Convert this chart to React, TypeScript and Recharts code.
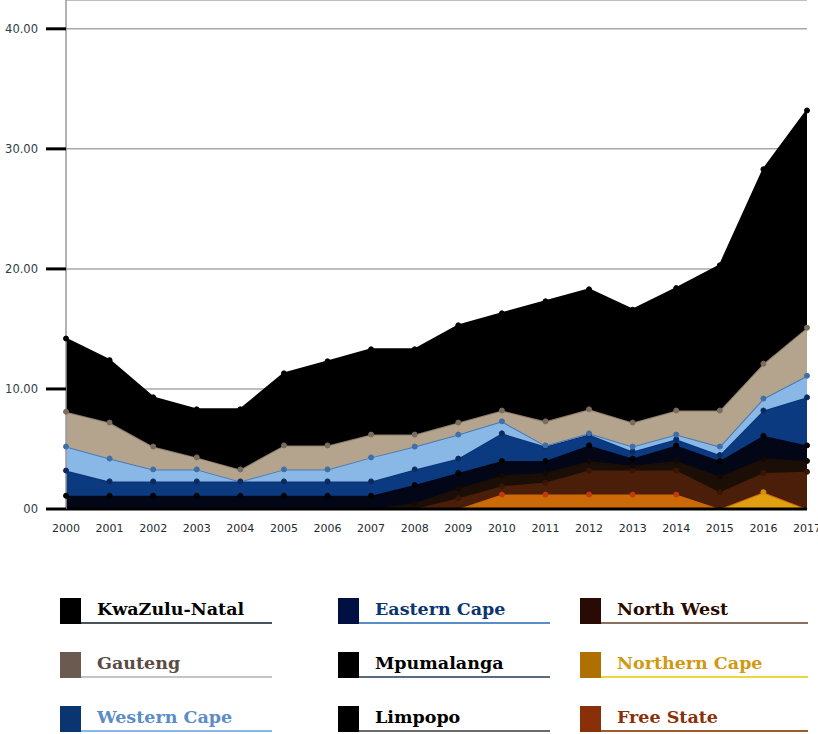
import { Area, AreaChart, CartesianGrid, XAxis, YAxis } from "recharts";

const years = [
  "2000", "2001", "2002", "2003", "2004", "2005", "2006", "2007", "2008",
  "2009", "2010", "2011", "2012", "2013", "2014", "2015", "2016", "2017",
];

// values per province, bottom of the stack first
const northernCape = [0, 0, 0, 0, 0, 0, 0, 0, 0, 0, 0, 0, 0, 0, 0, 0, 1.4, 0];
const freeState = [0, 0, 0, 0, 0, 0, 0, 0, 0, 0, 1.2, 1.2, 1.2, 1.2, 1.2, 0, 0, 0];
const northWest = [0, 0, 0, 0, 0, 0, 0, 0, 0, 0.9, 0.7, 1.0, 2.0, 2.0, 2.0, 1.4, 1.6, 3.1];
const limpopo = [0, 0, 0, 0, 0, 0, 0, 0, 0.5, 0.8, 0.9, 0.8, 0.8, 0.4, 0.8, 1.3, 1.2, 0.9];
const mpumalanga = [1.1, 1.1, 1.1, 1.1, 1.1, 1.1, 1.1, 1.1, 1.5, 1.3, 1.2, 1.0, 1.3, 0.6, 1.3, 1.3, 1.9, 1.3];
const easternCape = [2.1, 1.2, 1.2, 1.2, 1.2, 1.2, 1.2, 1.2, 1.3, 1.2, 2.3, 1.2, 0.9, 0.6, 0.5, 0.5, 2.1, 4.0];
const westernCape = [2.0, 1.9, 1.0, 1.0, 0, 1.0, 1.0, 2.0, 1.9, 2.0, 1.0, 0.1, 0.1, 0.4, 0.4, 0.7, 1.0, 1.8];
const gauteng = [2.9, 3.0, 1.9, 1.0, 1.0, 2.0, 2.0, 1.9, 1.0, 1.0, 0.9, 2.0, 2.0, 2.0, 2.0, 3.0, 2.9, 4.0];
const kwazuluNatal = [6.1, 5.2, 4.1, 4.0, 5.0, 6.0, 7.0, 7.1, 7.1, 8.1, 8.1, 10.0, 10.0, 9.4, 10.2, 12.1, 16.2, 18.1];

const yTicks = [0, 10, 20, 30, 40];

const stackOrder: [string, number[]][] = [
  ["Northern Cape", northernCape],
  ["Free State", freeState],
  ["North West", northWest],
  ["Limpopo", limpopo],
  ["Mpumalanga", mpumalanga],
  ["Eastern Cape", easternCape],
  ["Western Cape", westernCape],
  ["Gauteng", gauteng],
  ["KwaZulu-Natal", kwazuluNatal],
];

const legendOrder = [
  "KwaZulu-Natal", "Eastern Cape", "North West",
  "Gauteng", "Mpumalanga", "Northern Cape",
  "Western Cape", "Limpopo", "Free State",
];

const areaStyle: Record<string, { fill: string; stroke: string; dot: string }> = {
  "Northern Cape": { fill: "#e0a010", stroke: "#e0a010", dot: "#d89000" },
  "Free State": { fill: "#cc6a08", stroke: "#cc6a08", dot: "#c03a10" },
  "North West": { fill: "#4a1e08", stroke: "#4a1e08", dot: "#3a1404" },
  Limpopo: { fill: "#1a0e06", stroke: "#1a0e06", dot: "#120804" },
  Mpumalanga: { fill: "#020616", stroke: "#020616", dot: "#000000" },
  "Eastern Cape": { fill: "#0b3a80", stroke: "#0a3478", dot: "#0a2a60" },
  "Western Cape": { fill: "#8ab8e6", stroke: "#4a7ab2", dot: "#3f6fa8" },
  Gauteng: { fill: "#b4a48e", stroke: "#8a7c6c", dot: "#7a6c5e" },
  "KwaZulu-Natal": { fill: "#000000", stroke: "#000000", dot: "#000000" },
};

const legendStyle: Record<string, { square: string; text: string; line: string }> = {
  "KwaZulu-Natal": { square: "#000000", text: "#000000", line: "#4a525a" },
  "Eastern Cape": { square: "#001040", text: "#0a3570", line: "#5a8cc8" },
  "North West": { square: "#2a0a05", text: "#2a0a00", line: "#8a7060" },
  Gauteng: { square: "#6b5a50", text: "#5a4c44", line: "#c4c4c4" },
  Mpumalanga: { square: "#000000", text: "#000000", line: "#5a6a80" },
  "Northern Cape": { square: "#b07000", text: "#d09a10", line: "#e8d840" },
  "Western Cape": { square: "#0a3570", text: "#5b8cc6", line: "#8ab8e6" },
  Limpopo: { square: "#000000", text: "#000000", line: "#6a6a6a" },
  "Free State": { square: "#8a3008", text: "#8a3008", line: "#a05a30" },
};

const data = years.map((year, i) => {
  const row: Record<string, string | number> = { year };
  stackOrder.forEach(([name, values]) => {
    row[name] = values[i];
  });
  return row;
});

const colLeft = [60, 338, 580];
const colWidth = [212, 212, 228];
const rowTop = [598, 652, 706];

// only mark the points where the province actually has a value
function makeDot(name: string, color: string) {
  return (props: any) => {
    const { cx, cy, index, payload } = props;
    const v = payload ? Number(payload[name]) : 0;
    if (!v || cx == null || cy == null) return <g key={`${name}-${index}`} />;
    return <circle key={`${name}-${index}`} cx={cx} cy={cy} r={2.5} fill={color} stroke={color} />;
  };
}

function Legend() {
  return (
    <>
      {legendOrder.map((name, i) => {
        const s = legendStyle[name];
        const col = i % 3;
        const row = Math.floor(i / 3);
        return (
          <div
            key={name}
            style={{
              position: "absolute",
              left: colLeft[col],
              top: rowTop[row],
              width: colWidth[col],
              height: 26,
            }}
          >
            <div style={{ position: "absolute", left: 0, top: 0, width: 21, height: 26, background: s.square }} />
            <div style={{ position: "absolute", left: 21, right: 0, top: 24, height: 2, background: s.line }} />
            <div
              style={{
                position: "absolute",
                left: 37,
                top: 0,
                fontFamily: "'DejaVu Serif', serif",
                fontWeight: "bold",
                fontSize: 17.5,
                lineHeight: "22px",
                color: s.text,
                whiteSpace: "nowrap",
              }}
            >
              {name}
            </div>
          </div>
        );
      })}
    </>
  );
}

export default function App() {
  return (
    <div style={{ position: "absolute", left: 0, top: 0, width: 818, height: 734, background: "#fff", overflow: "hidden" }}>
      <AreaChart width={818} height={539} data={data} margin={{ top: 0, right: 11, bottom: 0, left: 0 }}>
        <CartesianGrid vertical={false} stroke="#a8a8a8" strokeWidth={1.5} />
        <XAxis
          dataKey="year"
          interval={0}
          height={30}
          tickLine={false}
          tickMargin={9}
          axisLine={{ stroke: "#000", strokeWidth: 3 }}
          tick={{ fill: "#1e2a30", fontSize: 11, fontFamily: "DejaVu Sans" }}
        />
        <YAxis
          width={66}
          domain={[0, 42.4]}
          ticks={yTicks}
          tickFormatter={(v: number) => (v === 0 ? "00" : v.toFixed(2))}
          tickSize={20}
          tickMargin={8}
          tickLine={{ stroke: "#000", strokeWidth: 3 }}
          axisLine={{ stroke: "#999", strokeWidth: 1.5 }}
          tick={{ fill: "#2f3d44", fontSize: 11.5, fontFamily: "DejaVu Sans" }}
        />
        {stackOrder.map(([name]) => {
          const s = areaStyle[name];
          return (
            <Area
              key={name}
              type="linear"
              dataKey={name}
              stackId="a"
              fill={s.fill}
              fillOpacity={1}
              stroke={s.stroke}
              strokeWidth={2}
              dot={makeDot(name, s.dot)}
              activeDot={false}
              isAnimationActive={false}
            />
          );
        })}
      </AreaChart>
      <Legend />
    </div>
  );
}
